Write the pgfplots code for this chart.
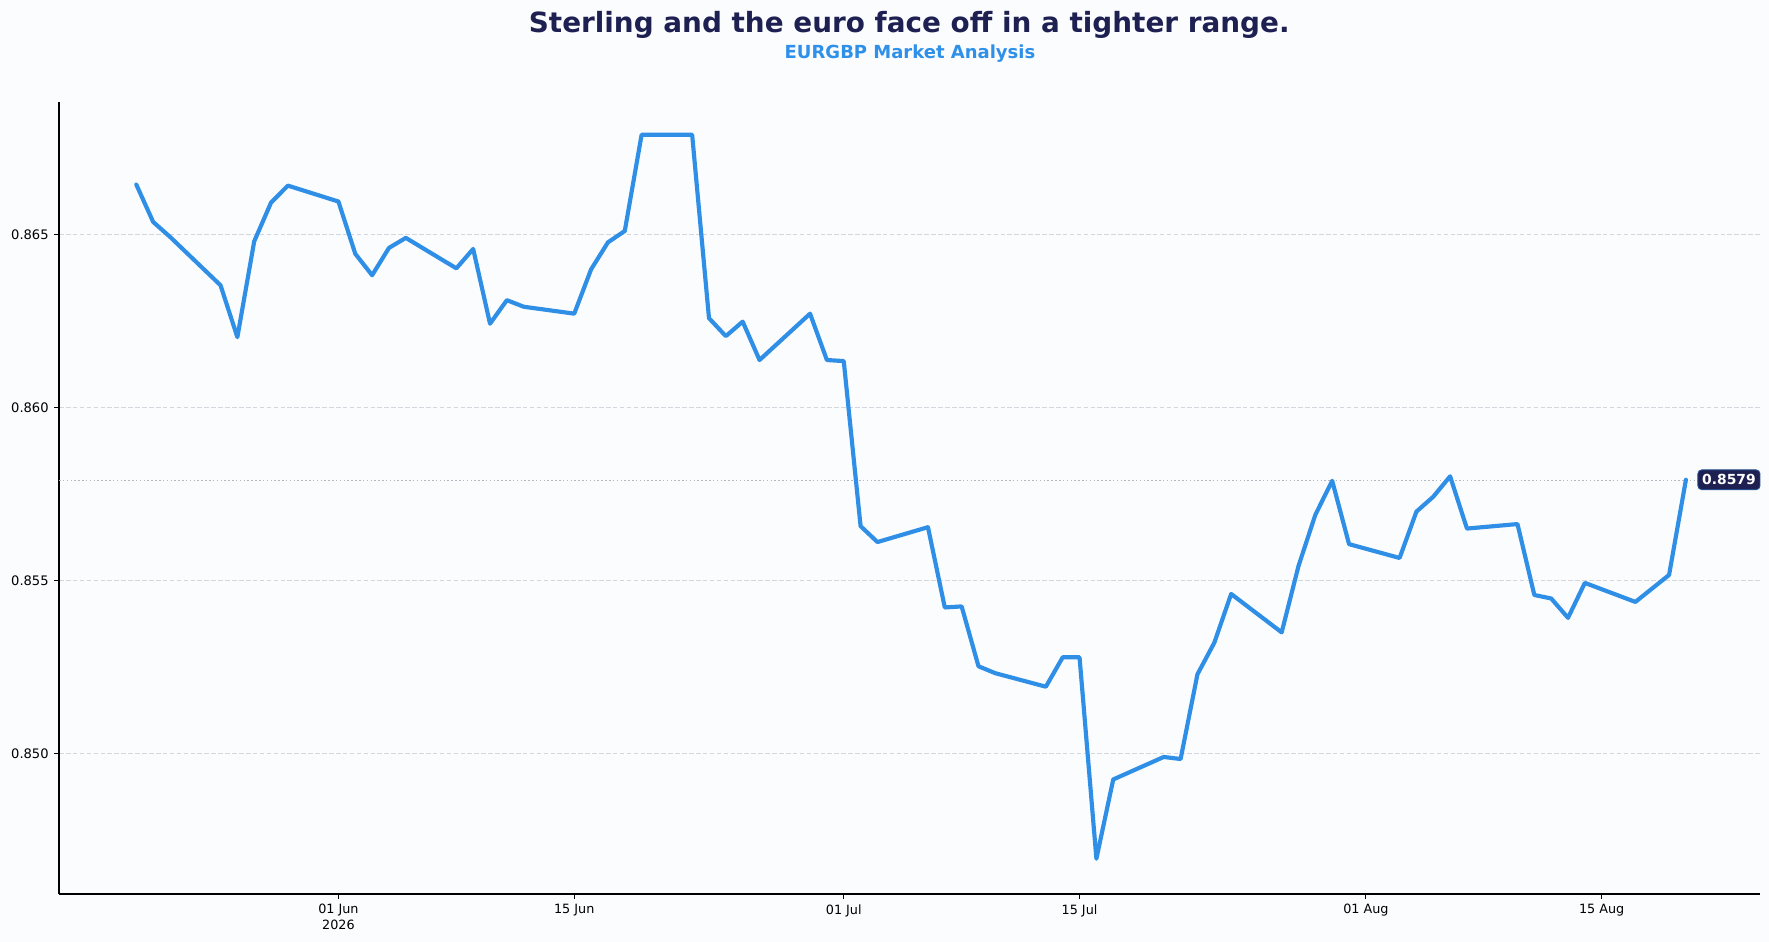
\documentclass[border=0pt]{standalone}
\usepackage{pgfplots}
\pgfplotsset{compat=1.18}
\usepackage{fontspec}
\setmainfont{DejaVu Sans}
\definecolor{navy}{HTML}{1E2052}
\definecolor{lineblue}{HTML}{2F8FE6}
\definecolor{subblue}{HTML}{2E90E8}
\definecolor{bgc}{HTML}{FBFCFE}
\definecolor{gridc}{HTML}{D3D6DC}
\definecolor{lastc}{HTML}{B4B6C0}
\begin{document}
\begin{tikzpicture}
\path[use as bounding box, fill=bgc] (0,0) rectangle (1149.85pt,612.3pt);
\node[anchor=base, text=navy, font=\fontsize{18.1}{22}\selectfont\bfseries] at (591pt,591.3pt) {Sterling and the euro face off in a tighter range.};
\node[anchor=base, text=subblue, font=\fontsize{11.7}{14}\selectfont\bfseries] at (591.5pt,574.4pt) {EURGBP Market Analysis};
\begin{axis}[
  at={(38.35pt,31.2pt)}, anchor=south west,
  scale only axis, width=1105.65pt, height=515.1pt,
  xmin=-16.59, xmax=84.4, ymin=0.84594, ymax=0.86884,
  axis lines*=left,
  axis line style={-, black, line width=0.8pt},
  tick style={black, line width=0.6pt},
  tick align=outside, major tick length=3.2pt,
  xtick={0,14,30,44,61,75},
  xticklabels={{01 Jun\\2026},15 Jun,01 Jul,15 Jul,01 Aug,15 Aug},
  x tick label style={align=center, font=\fontsize{8.3}{10}\selectfont},
  ytick={0.850,0.855,0.860,0.865},
  y tick label style={font=\fontsize{8.5}{10}\selectfont},
  yticklabel style={/pgf/number format/.cd, fixed, fixed zerofill, precision=3, assume math mode=true},
  scaled y ticks=false,
  ymajorgrids,
  major grid style={gridc, line width=0.5pt, dash pattern=on 3pt off 1.5pt},
  clip=false,
]
\addplot[lastc, line width=0.6pt, dash pattern=on 1pt off 1.5pt] coordinates {(-16.59,0.8579) (84.4,0.8579)};
\addplot[lineblue, line width=2.7pt, line join=round, line cap=round] coordinates {
(-12,0.86644) (-11,0.86536) (-10,0.86493) (-7,0.86353) (-6,0.86203) (-5,0.86480) (-4,0.86592) (-3,0.86641)
(0,0.86595) (1,0.86444) (2,0.86382) (3,0.86461) (4,0.86490)
(7,0.86402) (8,0.86458) (9,0.86242) (10,0.86310) (11,0.86291)
(14,0.86271) (15,0.86399) (16,0.86477) (17,0.86510) (18,0.86788)
(21,0.86788) (22,0.86258) (23,0.86206) (24,0.86248) (25,0.86137)
(28,0.86271) (29,0.86137) (30,0.86134) (31,0.85657) (32,0.85611)
(35,0.85654) (36,0.85422) (37,0.85425) (38,0.85252) (39,0.85232)
(42,0.85193) (43,0.85278) (44,0.85278) (45,0.84696) (46,0.84925)
(49,0.84990) (50,0.84984) (51,0.85229) (52,0.85320) (53,0.85461)
(56,0.85350) (57,0.85542) (58,0.85690) (59,0.85788) (60,0.85605)
(63,0.85565) (64,0.85699) (65,0.85742) (66,0.85801) (67,0.85650)
(70,0.85663) (71,0.85458) (72,0.85448) (73,0.85392) (74,0.85493)
(77,0.85438) (79,0.85516) (80,0.85791)
};
\node[anchor=west, xshift=7.5pt, fill=navy, draw=navy!60!lineblue, line width=0.6pt, rounded corners=2.5pt, text=white, inner xsep=2.8pt, inner ysep=3pt, font=\fontsize{9}{10}\selectfont\bfseries] at (axis cs:80,0.85791) {0.8579};
\end{axis}
\end{tikzpicture}
\end{document}
